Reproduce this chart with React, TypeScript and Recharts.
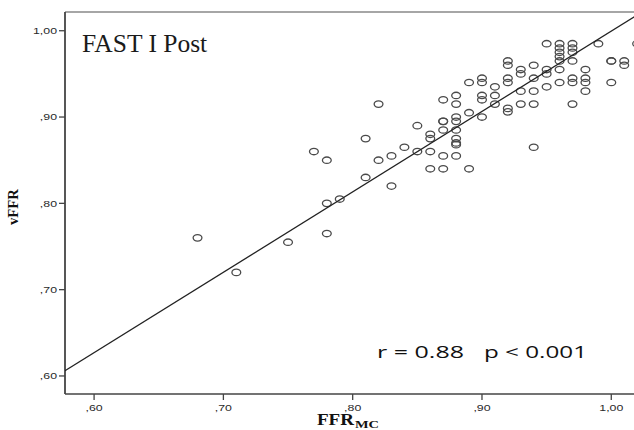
import React from 'react';
import { ScatterChart, Scatter, XAxis, YAxis } from 'recharts';

// FFR (MC) values, x axis
const ffrMC = [
  0.68, 0.71, 0.75, 0.77, 0.78, 0.78, 0.78, 0.79, 0.81, 0.81,
  0.82, 0.82, 0.83, 0.83, 0.84, 0.85, 0.85, 0.86, 0.86, 0.86,
  0.86, 0.87, 0.87, 0.87, 0.87, 0.87, 0.87, 0.88, 0.88, 0.88,
  0.88, 0.88, 0.88, 0.88, 0.88, 0.88, 0.89, 0.89, 0.89, 0.90,
  0.90, 0.90, 0.90, 0.90, 0.91, 0.91, 0.91, 0.92, 0.92, 0.92,
  0.92, 0.92, 0.92, 0.93, 0.93, 0.93, 0.93, 0.94, 0.94, 0.94,
  0.94, 0.94, 0.95, 0.95, 0.95, 0.95, 0.96, 0.96, 0.96, 0.96,
  0.96, 0.96, 0.96, 0.97, 0.97, 0.97, 0.97, 0.97, 0.97, 0.97,
  0.98, 0.98, 0.98, 0.98, 0.99, 1.00, 1.00, 1.00, 1.01, 1.01,
  1.02,
];

// vFFR values, y axis
const vFFR = [
  0.76, 0.72, 0.755, 0.86, 0.85, 0.80, 0.765, 0.805, 0.875, 0.83,
  0.915, 0.85, 0.855, 0.82, 0.865, 0.89, 0.86, 0.88, 0.875, 0.86,
  0.84, 0.92, 0.895, 0.895, 0.885, 0.855, 0.84, 0.925, 0.915, 0.90,
  0.895, 0.885, 0.875, 0.87, 0.868, 0.855, 0.94, 0.905, 0.84, 0.945,
  0.94, 0.925, 0.92, 0.90, 0.935, 0.925, 0.915, 0.965, 0.96, 0.945,
  0.94, 0.91, 0.906, 0.955, 0.95, 0.93, 0.915, 0.96, 0.945, 0.93,
  0.915, 0.865, 0.985, 0.955, 0.95, 0.935, 0.985, 0.98, 0.975, 0.97,
  0.965, 0.955, 0.94, 0.985, 0.98, 0.975, 0.965, 0.945, 0.94, 0.915,
  0.955, 0.945, 0.94, 0.93, 0.985, 0.965, 0.965, 0.94, 0.965, 0.96,
  0.985,
];

// regression line endpoints
const fitX = [0.5775, 1.0237];
const fitY = [0.606, 1.0217];

const xTicks = [0.6, 0.7, 0.8, 0.9, 1.0];
const yTicks = [0.6, 0.7, 0.8, 0.9, 1.0];
const xDomain = [0.5775, 1.04];
const yDomain = [0.5791, 1.0217];

const titleText = 'FAST I Post';
const statR = 'r = 0.88';
const statP = 'p < 0.001';
const yTitle = 'vFFR';
const xTitleMain = 'FFR';
const xTitleSub = 'MC';

const points = ffrMC.map((x, i) => ({ x, y: vFFR[i] }));
const fitData = fitX.map((x, i) => ({ x, y: fitY[i] }));

const fmt = (v: number) =>
  v >= 1 ? v.toFixed(2).replace('.', ',') : ',' + v.toFixed(2).slice(2);

const tickFont = '"Liberation Sans", Arial, sans-serif';

const YTick = (props: any) => {
  const { x, y, payload } = props;
  return (
    <g transform={`translate(${x},${y})`}>
      <text transform="scale(1.3,1)" textAnchor="end" dy={3.4} fontSize={9.5} fontFamily={tickFont} fill="#2a2a2a">
        {fmt(payload.value)}
      </text>
    </g>
  );
};

const XTick = (props: any) => {
  const { x, y, payload } = props;
  return (
    <g transform={`translate(${x},${y})`}>
      <text transform="scale(1.3,1)" textAnchor="middle" dy={9.5} fontSize={9.5} fontFamily={tickFont} fill="#2a2a2a">
        {fmt(payload.value)}
      </text>
    </g>
  );
};

const Ring = (props: any) => {
  const { cx, cy } = props;
  if (cx == null || cy == null) return <g />;
  return <ellipse cx={cx} cy={cy} rx={4.4} ry={3.2} fill="none" stroke="#4a4a4a" strokeWidth={1.3} />;
};

const NoDot = () => <g />;

export default function App() {
  return (
    <div style={{ position: 'absolute', left: 0, top: 0, width: 634, height: 430, overflow: 'hidden', background: '#fff' }}>
      <ScatterChart width={680} height={430} margin={{ top: 0, right: 17, bottom: 0, left: 0 }}>
        <XAxis
          dataKey="x"
          type="number"
          domain={xDomain}
          allowDataOverflow
          ticks={xTicks}
          height={36}
          tickSize={6}
          tickMargin={2}
          tick={<XTick />}
          axisLine={{ stroke: '#444', strokeWidth: 1.6 }}
          tickLine={{ stroke: '#444', strokeWidth: 1.3 }}
        />
        <XAxis
          xAxisId="top"
          orientation="top"
          dataKey="x"
          type="number"
          domain={xDomain}
          allowDataOverflow
          height={12}
          tick={false}
          tickLine={false}
          axisLine={{ stroke: '#888', strokeWidth: 1.4 }}
        />
        <YAxis
          dataKey="y"
          type="number"
          domain={yDomain}
          allowDataOverflow
          ticks={yTicks}
          width={65}
          tickSize={6}
          tickMargin={2}
          tick={<YTick />}
          axisLine={{ stroke: '#444', strokeWidth: 1.8 }}
          tickLine={{ stroke: '#444', strokeWidth: 1.3 }}
        />
        <Scatter data={points} shape={<Ring />} isAnimationActive={false} />
        <Scatter
          data={fitData}
          shape={<NoDot />}
          line={{ stroke: '#222', strokeWidth: 1.3 }}
          isAnimationActive={false}
        />
      </ScatterChart>
      <svg width={634} height={430} style={{ position: 'absolute', left: 0, top: 0, pointerEvents: 'none' }}>
        <text x={82} y={52} fontSize={25.5} fontFamily='"Liberation Serif", "Times New Roman", serif' fill="#1a1a1a">
          {titleText}
        </text>
        <text x={377} y={358} fontSize={17} fontFamily='"Open Sans", sans-serif' fill="#111" textLength={87} lengthAdjust="spacingAndGlyphs">
          {statR}
        </text>
        <text x={484} y={358} fontSize={17} fontFamily='"Open Sans", sans-serif' fill="#111" textLength={103} lengthAdjust="spacingAndGlyphs">
          {statP}
        </text>
        <text
          transform="translate(18,207) rotate(-90)"
          textAnchor="middle"
          fontSize={14}
          fontWeight="bold"
          fontFamily='"Liberation Serif", "Times New Roman", serif'
          fill="#111"
          textLength={36}
          lengthAdjust="spacingAndGlyphs"
        >
          {yTitle}
        </text>
        <text x={317} y={425} fontSize={16} fontWeight="bold" fontFamily='"Liberation Serif", "Times New Roman", serif' fill="#111" textLength={37} lengthAdjust="spacingAndGlyphs">
          {xTitleMain}
        </text>
        <text x={355} y={428} fontSize={11} fontWeight="bold" fontFamily='"Liberation Serif", "Times New Roman", serif' fill="#111" textLength={24} lengthAdjust="spacingAndGlyphs">
          {xTitleSub}
        </text>
      </svg>
    </div>
  );
}
